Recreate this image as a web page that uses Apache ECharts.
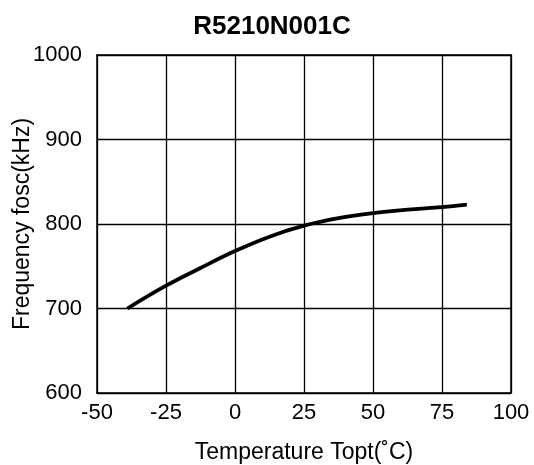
<!DOCTYPE html>
<html>
<head>
<meta charset="utf-8">
<script src="https://cdn.jsdelivr.net/npm/echarts@6/dist/echarts.min.js"></script>
<style>
html,body{margin:0;padding:0;background:#fff;}
#chart{width:534px;height:465px;}
</style>
</head>
<body>
<div id="chart"></div>
<script>
var titleText = 'R5210N001C';
var temperature = [-39, -25, -12.5, 0, 12.5, 25, 37.5, 50, 62.5, 75, 84];
var frequency = [700, 727, 748, 768, 785, 798, 807, 813, 817, 820, 823];
var xName = 'Temperature Topt(\u02DAC)';
var yName = 'Frequency fosc(kHz)';

var points = temperature.map(function (t, i) { return [t, frequency[i]]; });
var font = '"Liberation Sans", Arial, Helvetica, sans-serif';
var chart = echarts.init(document.getElementById('chart'), null, {renderer: 'canvas'});
var frame = {color: '#000', width: 1.5};
chart.setOption({
  animation: false,
  backgroundColor: '#ffffff',
  title: {
    text: titleText,
    left: 267, top: 9, textAlign: 'center',
    textStyle: {fontFamily: font, fontSize: 26, fontWeight: 'bold', color: '#000'}
  },
  grid: {left: 97, right: 23, top: 55, bottom: 72, containLabel: false, outerBoundsMode: 'none'},
  xAxis: [{
    type: 'value', min: -50, max: 100, interval: 25,
    name: xName, nameLocation: 'middle', nameGap: 48, nameMoveOverlap: false,
    nameTextStyle: {fontFamily: font, fontSize: 23, color: '#000'},
    axisLine: {show: true, onZero: false, lineStyle: frame},
    axisTick: {show: false},
    axisLabel: {fontFamily: font, fontSize: 22, color: '#000', margin: 9},
    splitLine: {show: true, lineStyle: {color: '#000', width: 1.3}}
  }, {
    type: 'value', min: -50, max: 100, interval: 25, position: 'top',
    axisLine: {show: true, onZero: false, lineStyle: frame},
    axisTick: {show: false}, axisLabel: {show: false}, splitLine: {show: false}
  }],
  yAxis: [{
    type: 'value', min: 600, max: 1000, interval: 100,
    name: yName, nameLocation: 'middle', nameGap: 63, nameRotate: 90, nameMoveOverlap: false,
    nameTextStyle: {fontFamily: font, fontSize: 23, color: '#000'},
    axisLine: {show: true, onZero: false, lineStyle: frame},
    axisTick: {show: false},
    axisLabel: {fontFamily: font, fontSize: 22, color: '#000', margin: 15, formatter: function (v) { return String(v); }},
    splitLine: {show: true, lineStyle: {color: '#000', width: 1.3}}
  }, {
    type: 'value', min: 600, max: 1000, interval: 100, position: 'right',
    axisLine: {show: true, onZero: false, lineStyle: frame},
    axisTick: {show: false}, axisLabel: {show: false}, splitLine: {show: false}
  }],
  series: [{
    type: 'line',
    data: points,
    smooth: 0.4,
    symbol: 'none',
    lineStyle: {color: '#000', width: 3.8},
    z: 5
  }]
});
</script>
</body>
</html>
